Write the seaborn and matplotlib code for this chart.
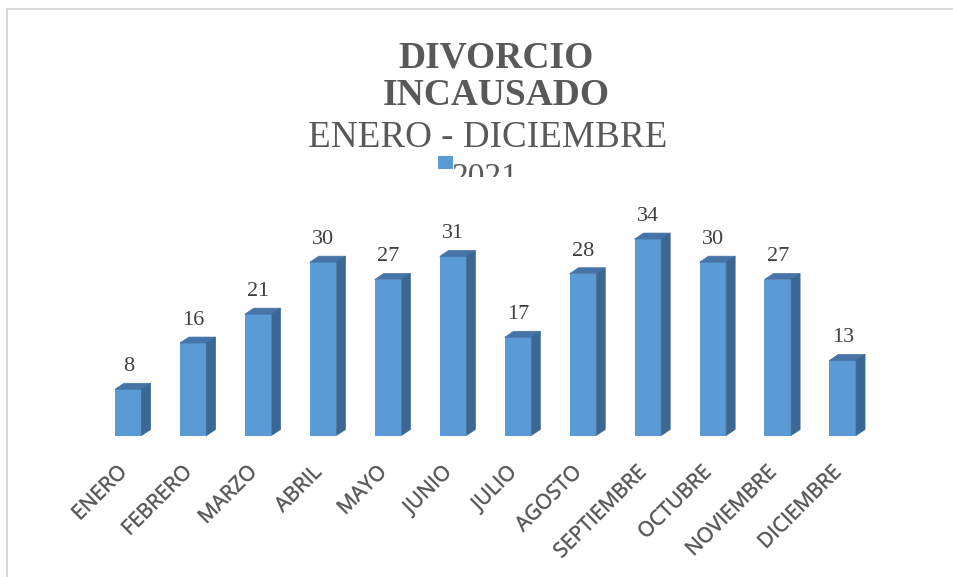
import matplotlib
matplotlib.use("Agg")
import matplotlib.pyplot as plt
import matplotlib.patheffects as pe
import seaborn as sns
import pandas as pd
from matplotlib.patches import Polygon, Rectangle
from matplotlib.transforms import Bbox, TransformedBbox, ScaledTranslation

# ---- data ----
months = ["ENERO", "FEBRERO", "MARZO", "ABRIL", "MAYO", "JUNIO", "JULIO",
          "AGOSTO", "SEPTIEMBRE", "OCTUBRE", "NOVIEMBRE", "DICIEMBRE"]
values = [8, 16, 21, 30, 27, 31, 17, 28, 34, 30, 27, 13]
series_name = "2021"
title_bold = ["DIVORCIO", "INCAUSADO"]
title_sub = "ENERO - DICIEMBRE"

df = pd.DataFrame({"mes": months, "casos": values})

sns.set_style("white")
W, H = 954, 577
fig = plt.figure(figsize=(W / 100, H / 100), dpi=100)

FRONT = "#5B9BD5"
TOP = "#4674A9"
SIDE = "#3B6792"
GRAY = "#595959"

# axes placement (pixels)
ax_left, ax_right = 95.8, 875.2
ax_bottom_px, ax_top_px = 435.5, 175.5
ax = fig.add_axes([ax_left / W, (H - ax_bottom_px) / H,
                   (ax_right - ax_left) / W, (ax_bottom_px - ax_top_px) / H])

sns.barplot(data=df, x="mes", y="casos", color=FRONT, saturation=1,
            width=0.41, ax=ax, linewidth=0, zorder=2)
ax.set_xlim(-0.5, 11.5)
ax.set_ylim(0, 45)

for s in ax.spines.values():
    s.set_visible(False)
ax.set_yticks([])
ax.set_xlabel("")
ax.set_ylabel("")

# 3-D faces
px_per_x = (ax_right - ax_left) / 12.0
px_per_y = (ax_bottom_px - ax_top_px) / 45.0
dx = 9.0 / px_per_x
dy = 6.0 / px_per_y
bars = list(ax.containers[0])
for p in bars:
    x0, w, h = p.get_x(), p.get_width(), p.get_height()
    top = Polygon([(x0, h), (x0 + w, h), (x0 + w + dx, h + dy), (x0 + dx, h + dy)],
                  closed=True, facecolor=TOP, edgecolor=TOP, lw=0.5,
                  clip_on=False, zorder=3)
    side = Polygon([(x0 + w, 0), (x0 + w, h), (x0 + w + dx, h + dy), (x0 + w + dx, dy)],
                   closed=True, facecolor=SIDE, edgecolor=SIDE, lw=0.5,
                   clip_on=False, zorder=3)
    ax.add_patch(top)
    ax.add_patch(side)

# data labels
ax.bar_label(ax.containers[0], labels=[str(v) for v in values], padding=9.5,
             fontsize=16, family="Liberation Serif", color="#404040")

# tick labels
ax.tick_params(axis="x", length=0, pad=19, labelsize=15, labelcolor=GRAY)
ax.set_xticks(range(len(months)))
ax.set_xticklabels(months, family="Open Sans")
off = ScaledTranslation(-12 / 100, 0, fig.dpi_scale_trans)
for lab in ax.get_xticklabels():
    lab.set_rotation(45)
    lab.set_ha("right")
    lab.set_va("top")
    lab.set_rotation_mode("anchor")
    lab.set_transform(lab.get_transform() + off)
    lab.set_path_effects([pe.withStroke(linewidth=0.5, foreground="#9a9a9a")])

# title
fig.text(496 / W, (H - 67) / H, title_bold[0], ha="center", va="baseline",
         fontsize=27, fontweight="bold", family="Liberation Serif", color=GRAY)
fig.text(496 / W, (H - 105) / H, title_bold[1], ha="center", va="baseline",
         fontsize=27, fontweight="bold", family="Liberation Serif", color=GRAY)
fig.text(487.5 / W, (H - 147) / H, title_sub, ha="center", va="baseline",
         fontsize=26.7, family="Liberation Serif", color=GRAY)

# legend (partially clipped as in the reference)
fig.patches.append(Rectangle((438 / W, (H - 169.3) / H), 14.7 / W, 13.3 / H,
                             transform=fig.transFigure, facecolor=FRONT,
                             edgecolor="none", zorder=5))
lt = fig.text(451.7 / W, (H - 186) / H, series_name, ha="left", va="baseline",
              fontsize=24, family="Liberation Serif", color=GRAY)
lt.set_clip_box(TransformedBbox(Bbox([[0, (H - 177) / H], [1, 1]]), fig.transFigure))
lt.set_clip_on(True)

# chart border
fig.patches.append(Rectangle((7 / W, -0.1), 1.2, (1 - 9 / H) + 0.1,
                             transform=fig.transFigure, facecolor="none",
                             edgecolor="#D9D9D9", lw=1.5, zorder=0))

fig.savefig("out.png", dpi=100)
